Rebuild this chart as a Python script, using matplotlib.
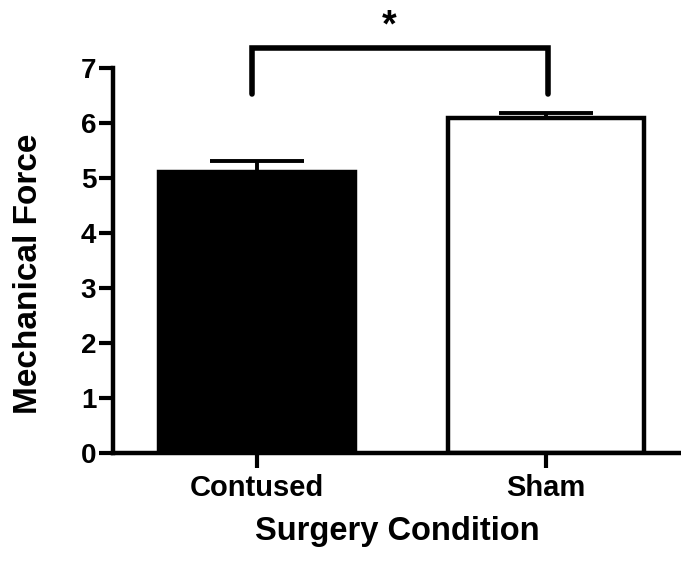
import numpy as np
import matplotlib
matplotlib.use('Agg')
import matplotlib.pyplot as plt

plt.rcParams['font.family'] = ['Liberation Sans', 'DejaVu Sans']
plt.rcParams['font.weight'] = 'bold'

# data
groups = ['Contused', 'Sham']
means = [5.11, 6.09]
sems = [0.20, 0.09]
fills = ['black', 'white']
yticks = [0, 1, 2, 3, 4, 5, 6, 7]
sig_y = 7.36
sig_leg = 6.53

fig = plt.figure(figsize=(6.81, 5.61), dpi=100)
ax = fig.add_axes([113/681, 1-453/561, 1-113/681, (453-68)/561])

x = np.arange(len(groups))
ax.bar(x, means, width=0.68, color=fills, edgecolor='black', linewidth=3.2, zorder=2)
ax.errorbar(x, means, yerr=[[0, 0], sems], fmt='none', ecolor='black',
            elinewidth=2.8, capsize=34, capthick=2.8, zorder=3)

# significance bracket
ax.plot([-0.017, -0.017, 1.007, 1.007], [sig_leg, sig_y, sig_y, sig_leg],
        color='black', lw=4, clip_on=False, solid_capstyle='round',
        solid_joinstyle='miter')
ax.text(0.457, 7.76, '*', ha='center', va='center', fontsize=27,
        fontweight='bold', clip_on=False)

ax.set_xlim(-0.498, 1.467)
ax.set_ylim(0, 7)
ax.set_xticks(x)
ax.set_xticklabels(groups)
ax.set_yticks(yticks)

for s in ['top', 'right']:
    ax.spines[s].set_visible(False)
ax.spines['left'].set_linewidth(3.2)
ax.spines['bottom'].set_linewidth(3.2)
ax.spines['left'].set_bounds(0, 7)

ax.tick_params(axis='y', length=10, width=3, pad=2, labelsize=20)
ax.tick_params(axis='x', length=11, width=3, pad=4, labelsize=21)

ax.set_xlabel('Surgery Condition', fontsize=23.5, fontweight='bold', labelpad=10)
fig.text(29/681, 1-274/561, 'Mechanical Force', rotation=90, ha='center',
         va='center', fontsize=24, fontweight='bold')

fig.savefig('out.png', dpi=100)
